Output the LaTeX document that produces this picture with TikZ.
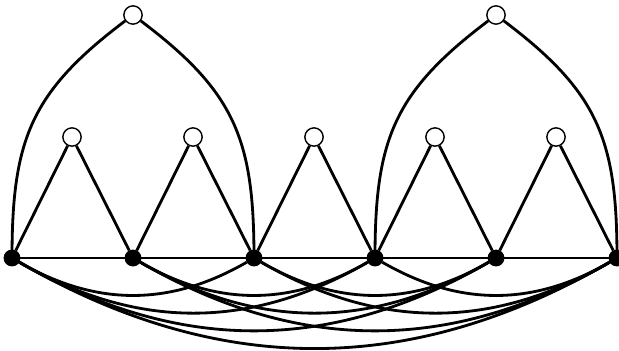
\documentclass[tikz,border=0pt]{standalone}
\usepackage{tikz}
\usetikzlibrary{backgrounds}

\begin{document}
\begin{tikzpicture}[x=0.025cm,y=0.025cm,
  edge/.style={line width=2pt},
  full/.style={draw,circle,fill=black,inner sep=0pt,minimum size=11,line width=1pt},
  empty/.style={draw,circle,fill=white,inner sep=0pt,minimum size=13,line width=1pt}]

\useasboundingbox (0,0) rectangle (619,350);

% vertices
\foreach \i in {0,...,5}
  \node[full] (b\i) at (12+121*\i,92) {};
\foreach \i in {0,...,4}
  \node[empty] (m\i) at (72+121*\i,213) {};
\node[empty] (t0) at (133,335) {};
\node[empty] (t1) at (496,335) {};

\begin{scope}[on background layer]
% bottom line and arcs below
\draw[edge] (b0) -- (b5);
\foreach \i in {0,...,3}
  \foreach \j in {\i,...,5} {
    \pgfmathtruncatemacro{\dist}{\j-\i}
    \ifnum\dist>1
      \draw[edge] (b\i) to[bend right=30] (b\j);
    \fi
  }

% middle peaks
\foreach \i [evaluate=\i as \k using int(\i+1)] in {0,...,4}
  \draw[edge] (b\i) -- (m\i) -- (b\k);

% top arches
\draw[edge] (b0.center) to[out=90,in=217,looseness=1.15] (t0) to[out=-37,in=90,looseness=1.15] (b2.center);
\draw[edge] (b3.center) to[out=90,in=217,looseness=1.15] (t1) to[out=-37,in=90,looseness=1.15] (b5.center);
\end{scope}

\end{tikzpicture}
\end{document}
